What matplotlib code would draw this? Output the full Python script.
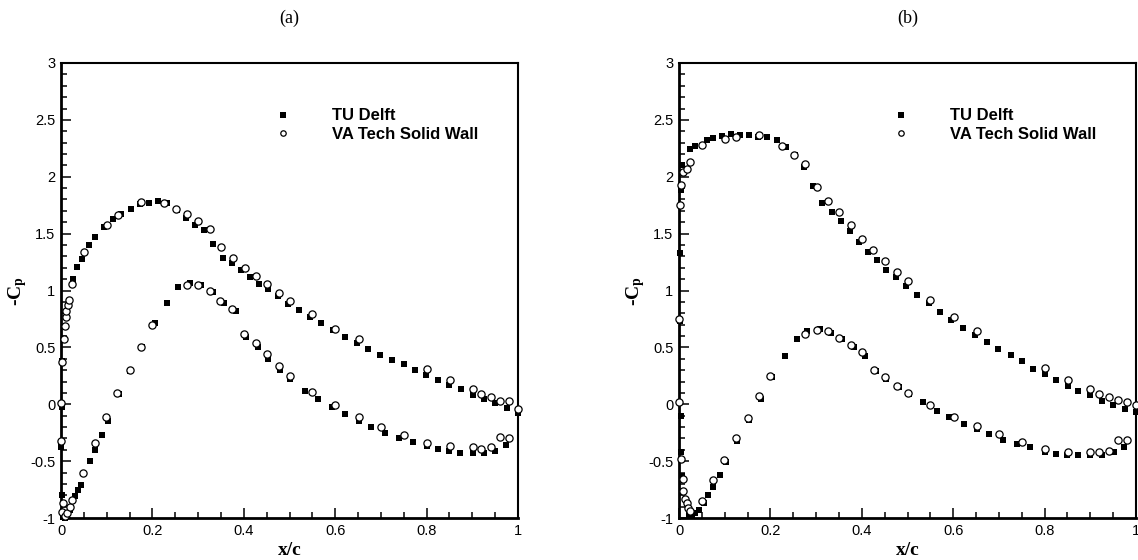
import matplotlib
matplotlib.use("Agg")
import matplotlib.pyplot as plt
from matplotlib.ticker import MultipleLocator, FormatStrFormatter

plt.rcParams['axes.unicode_minus'] = False
plt.rcParams['mathtext.fontset'] = 'stix'
plt.rcParams['font.family'] = ['Liberation Sans', 'DejaVu Sans']

# ---- case (a) ----
a_delft_up_x = [0.0015, 0.0, 0.0015, 0.0015, 0.026, 0.036, 0.046, 0.061, 0.074, 0.094, 0.114, 0.131,
                0.153, 0.173, 0.193, 0.212, 0.233, 0.253, 0.274, 0.293, 0.313, 0.332, 0.355, 0.374,
                0.393, 0.414, 0.433, 0.454, 0.475, 0.497, 0.521, 0.545, 0.570, 0.596, 0.621, 0.647,
                0.672, 0.698, 0.724, 0.750, 0.775, 0.799, 0.825, 0.850, 0.875, 0.901, 0.926, 0.950,
                0.975, 1.0]
a_delft_up_cp = [-0.80, -0.38, -0.02, 0.38, 1.10, 1.21, 1.28, 1.40, 1.47, 1.56, 1.63, 1.67,
                 1.72, 1.76, 1.77, 1.79, 1.77, 1.71, 1.64, 1.58, 1.53, 1.41, 1.29, 1.24,
                 1.18, 1.12, 1.06, 1.01, 0.95, 0.88, 0.83, 0.77, 0.71, 0.65, 0.59, 0.54,
                 0.49, 0.43, 0.39, 0.35, 0.30, 0.26, 0.21, 0.17, 0.13, 0.08, 0.05, 0.01,
                 -0.03, -0.08]
a_delft_lo_x = [0.004, 0.008, 0.012, 0.020, 0.031, 0.038, 0.044, 0.063, 0.074, 0.090, 0.103, 0.128,
                0.151, 0.178, 0.206, 0.231, 0.257, 0.282, 0.306, 0.332, 0.357, 0.382, 0.405, 0.430,
                0.454, 0.479, 0.502, 0.534, 0.562, 0.592, 0.621, 0.651, 0.678, 0.709, 0.740, 0.770,
                0.800, 0.825, 0.849, 0.873, 0.901, 0.926, 0.950, 0.974]
a_delft_lo_cp = [-0.99, -1.0, -0.97, -0.93, -0.81, -0.75, -0.71, -0.50, -0.40, -0.27, -0.15, 0.09,
                 0.29, 0.50, 0.71, 0.89, 1.03, 1.07, 1.05, 0.99, 0.89, 0.82, 0.59, 0.50,
                 0.40, 0.30, 0.22, 0.12, 0.05, -0.02, -0.09, -0.15, -0.20, -0.25, -0.30, -0.33,
                 -0.37, -0.39, -0.41, -0.43, -0.43, -0.43, -0.41, -0.36]
a_vt_up_x = [0.0, 0.0, 0.003, 0.007, 0.009, 0.010, 0.012, 0.016, 0.018, 0.025, 0.050, 0.101,
             0.125, 0.175, 0.226, 0.251, 0.275, 0.300, 0.326, 0.350, 0.376, 0.403, 0.426, 0.450,
             0.476, 0.500, 0.550, 0.600, 0.651, 0.800, 0.851, 0.901, 0.920, 0.940, 0.961, 0.981,
             1.0]
a_vt_up_cp = [-0.32, 0.01, 0.37, 0.57, 0.69, 0.77, 0.82, 0.87, 0.92, 1.06, 1.34, 1.58,
              1.66, 1.78, 1.77, 1.72, 1.67, 1.61, 1.54, 1.38, 1.29, 1.20, 1.13, 1.06,
              0.98, 0.91, 0.79, 0.66, 0.57, 0.31, 0.21, 0.13, 0.09, 0.06, 0.03, 0.03,
              -0.04]
a_vt_lo_x = [0.003, 0.005, 0.008, 0.013, 0.020, 0.024, 0.049, 0.074, 0.098, 0.123, 0.150, 0.174,
             0.200, 0.275, 0.300, 0.325, 0.349, 0.375, 0.400, 0.426, 0.451, 0.476, 0.500, 0.550,
             0.600, 0.651, 0.700, 0.750, 0.800, 0.851, 0.901, 0.920, 0.940, 0.961, 0.981]
a_vt_lo_cp = [-0.95, -0.87, -0.98, -0.96, -0.90, -0.84, -0.60, -0.34, -0.11, 0.10, 0.30, 0.50,
              0.70, 1.05, 1.05, 1.00, 0.91, 0.84, 0.62, 0.54, 0.44, 0.34, 0.25, 0.11,
              -0.01, -0.11, -0.20, -0.27, -0.34, -0.37, -0.38, -0.39, -0.38, -0.29, -0.30]

# ---- case (b) ----
b_delft_up_x = [0.002, 0.002, 0.005, 0.007, 0.025, 0.036, 0.061, 0.075, 0.095, 0.114, 0.133, 0.153,
                0.173, 0.193, 0.214, 0.234, 0.254, 0.274, 0.294, 0.313, 0.334, 0.354, 0.374, 0.394,
                0.414, 0.434, 0.454, 0.474, 0.497, 0.520, 0.546, 0.571, 0.596, 0.622, 0.647, 0.673,
                0.699, 0.726, 0.750, 0.775, 0.800, 0.826, 0.851, 0.874, 0.900, 0.925, 0.949, 0.975,
                1.0]
b_delft_up_cp = [0.73, 1.33, 1.88, 2.10, 2.24, 2.27, 2.32, 2.34, 2.36, 2.38, 2.37, 2.37,
                 2.35, 2.35, 2.32, 2.26, 2.19, 2.09, 1.92, 1.77, 1.69, 1.61, 1.52, 1.43,
                 1.34, 1.27, 1.18, 1.12, 1.04, 0.96, 0.89, 0.81, 0.74, 0.67, 0.61, 0.55,
                 0.49, 0.43, 0.38, 0.31, 0.27, 0.21, 0.16, 0.12, 0.08, 0.03, -0.01, -0.04,
                 -0.07]
b_delft_lo_x = [0.004, 0.005, 0.007, 0.021, 0.028, 0.034, 0.043, 0.055, 0.063, 0.075, 0.090, 0.103,
                0.128, 0.153, 0.179, 0.204, 0.232, 0.259, 0.281, 0.308, 0.332, 0.356, 0.382, 0.407,
                0.431, 0.454, 0.481, 0.503, 0.534, 0.565, 0.591, 0.624, 0.651, 0.678, 0.709, 0.740,
                0.769, 0.800, 0.824, 0.849, 0.873, 0.900, 0.925, 0.951, 0.973]
b_delft_lo_cp = [-0.10, -0.42, -0.63, -0.97, -0.98, -0.96, -0.93, -0.87, -0.80, -0.73, -0.62, -0.51,
                 -0.32, -0.14, 0.05, 0.24, 0.42, 0.57, 0.64, 0.66, 0.63, 0.57, 0.50, 0.42,
                 0.29, 0.22, 0.15, 0.09, 0.02, -0.06, -0.11, -0.17, -0.22, -0.26, -0.31, -0.35,
                 -0.38, -0.42, -0.44, -0.45, -0.45, -0.45, -0.45, -0.42, -0.38]
b_vt_up_x = [0.0, 0.002, 0.005, 0.009, 0.018, 0.025, 0.051, 0.101, 0.125, 0.174, 0.226, 0.252,
             0.275, 0.301, 0.325, 0.350, 0.376, 0.401, 0.425, 0.450, 0.476, 0.501, 0.550, 0.601,
             0.651, 0.800, 0.851, 0.900, 0.920, 0.940, 0.960, 0.980, 1.0]
b_vt_up_cp = [0.75, 1.75, 1.93, 2.04, 2.07, 2.13, 2.28, 2.33, 2.35, 2.37, 2.27, 2.19,
              2.11, 1.91, 1.79, 1.69, 1.58, 1.45, 1.36, 1.26, 1.16, 1.08, 0.92, 0.77,
              0.64, 0.32, 0.21, 0.13, 0.09, 0.06, 0.04, 0.02, -0.01]
b_vt_lo_x = [0.0, 0.004, 0.008, 0.009, 0.013, 0.017, 0.020, 0.024, 0.050, 0.075, 0.099, 0.125,
             0.150, 0.175, 0.200, 0.275, 0.301, 0.325, 0.350, 0.376, 0.401, 0.426, 0.450, 0.476,
             0.501, 0.550, 0.601, 0.651, 0.700, 0.750, 0.800, 0.851, 0.900, 0.920, 0.940, 0.960,
             0.980]
b_vt_lo_cp = [0.02, -0.48, -0.66, -0.76, -0.83, -0.87, -0.91, -0.94, -0.85, -0.67, -0.49, -0.30,
              -0.12, 0.07, 0.25, 0.62, 0.65, 0.64, 0.58, 0.52, 0.46, 0.30, 0.24, 0.16,
              0.10, -0.01, -0.11, -0.19, -0.26, -0.33, -0.39, -0.42, -0.42, -0.42, -0.41, -0.31,
              -0.31]

panels = [
    ("(a)", a_delft_up_x + a_delft_lo_x, a_delft_up_cp + a_delft_lo_cp,
     a_vt_up_x + a_vt_lo_x, a_vt_up_cp + a_vt_lo_cp),
    ("(b)", b_delft_up_x + b_delft_lo_x, b_delft_up_cp + b_delft_lo_cp,
     b_vt_up_x + b_vt_lo_x, b_vt_up_cp + b_vt_lo_cp),
]

fig = plt.figure(figsize=(11.38, 5.6), dpi=100)
lefts = [61 / 1138, 679 / 1138]

for left, (tag, dx, dcp, vx, vcp) in zip(lefts, panels):
    ax = fig.add_axes([left, 42 / 560, 457 / 1138, 455 / 560])
    ax.plot(dx, dcp, 's', color='black', ms=5, mew=0, clip_on=False, zorder=3, label='TU Delft')
    ax.plot(vx, vcp, 'o', mfc='white', mec='black', ms=5.2, mew=0.9, clip_on=False, zorder=4,
            label='VA Tech Solid Wall')

    ax.set_xlim(0, 1)
    ax.set_ylim(-1, 3)
    ax.xaxis.set_major_locator(MultipleLocator(0.2))
    ax.xaxis.set_minor_locator(MultipleLocator(0.05))
    ax.yaxis.set_major_locator(MultipleLocator(0.5))
    ax.yaxis.set_minor_locator(MultipleLocator(0.1))
    ax.xaxis.set_major_formatter(FormatStrFormatter('%g'))
    ax.yaxis.set_major_formatter(FormatStrFormatter('%g'))
    ax.tick_params(which='both', direction='in', top=False, right=False, width=1.1)
    ax.tick_params(which='major', length=7, labelsize=10.5, pad=4)
    ax.tick_params(which='minor', length=4.5)
    for side in ['left', 'bottom']:
        ax.spines[side].set_linewidth(2.0)
    for side in ['top', 'right']:
        ax.spines[side].set_linewidth(1.5)

    ax.set_xlabel('x/c', family='Liberation Serif', fontweight='bold', fontsize=14, labelpad=3)
    ax.set_ylabel(r'-C$_{\mathbf{p}}$', family='Liberation Serif', fontweight='bold', fontsize=14,
                  labelpad=1)
    ax.set_title(tag, family='Liberation Serif', fontsize=13, pad=29)

    ax.legend(loc='upper left', bbox_to_anchor=(0.449, 0.9), frameon=False, markerscale=0.75,
              numpoints=1, handlelength=2.0, handletextpad=1.93, labelspacing=0.22,
              borderpad=0, borderaxespad=0, prop={'weight': 'bold', 'size': 12})

fig.savefig('out.png', dpi=100)
